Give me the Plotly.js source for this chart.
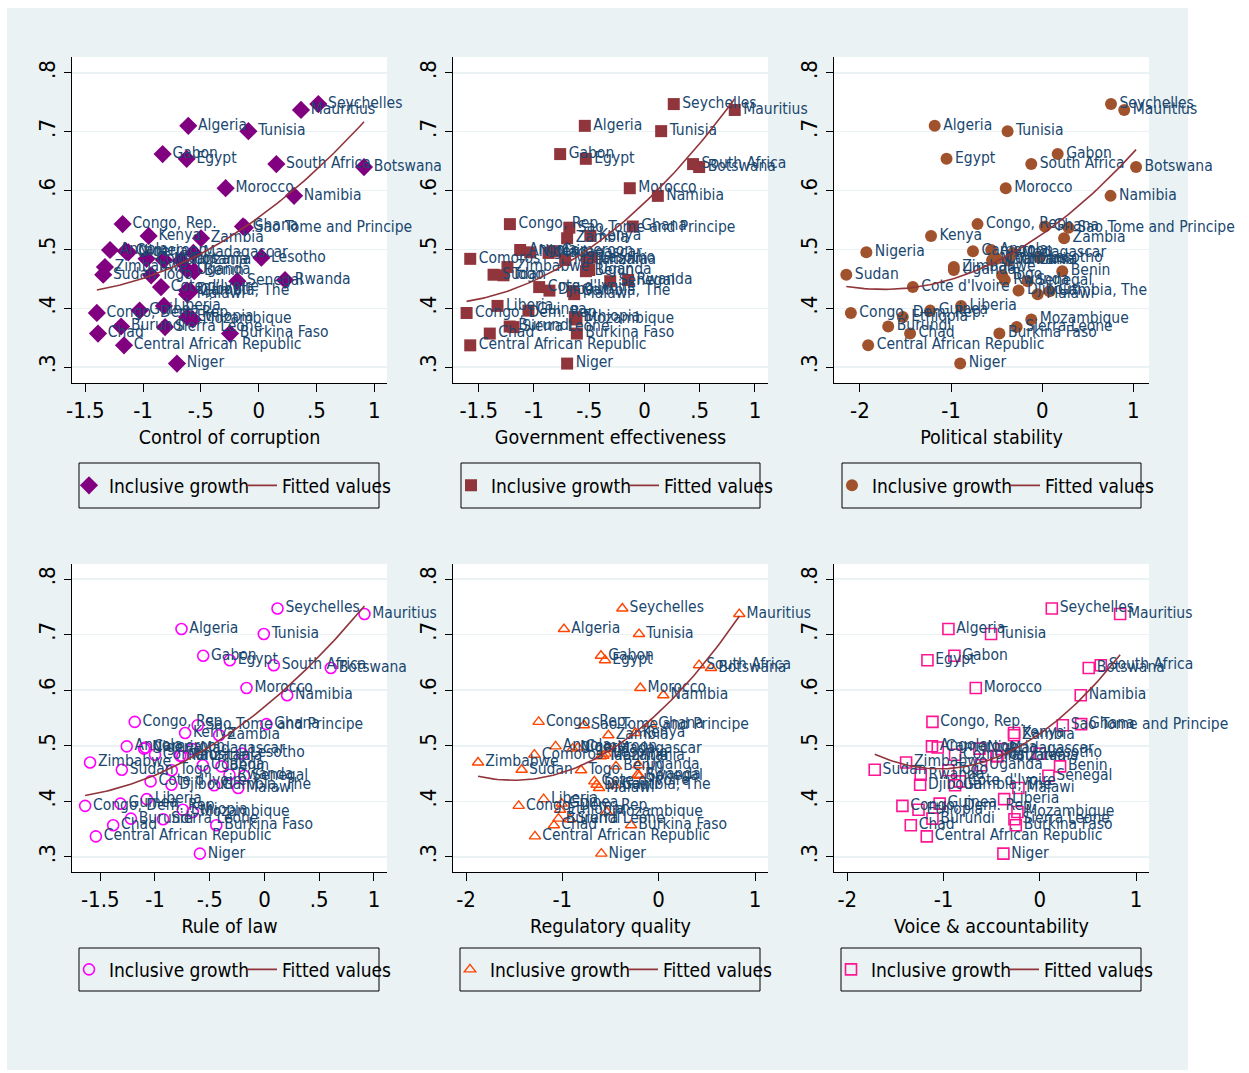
<!DOCTYPE html>
<html>
<head>
<meta charset="utf-8">
<script src="https://cdn.plot.ly/plotly-3.0.1.min.js"></script>
<style>html,body{margin:0;padding:0;background:#fff;}#chart{width:1249px;height:1073px;}</style>
</head>
<body>
<div id="chart"></div>
<script>
const countries = ["Seychelles","Mauritius","Algeria","Tunisia","Gabon","Egypt","South Africa","Botswana","Morocco","Namibia",
"Congo, Rep.","Ghana","Sao Tome and Principe","Kenya","Zambia","Angola","Cameroon","Nigeria","Madagascar","Lesotho",
"Comoros","Mauritania","Tanzania","Zimbabwe","Uganda","Benin","Sudan","Togo","Rwanda","Senegal",
"Cote d'Ivoire","Djibouti","Gambia, The","Malawi","Liberia","Guinea","Congo, Dem. Rep.","Ethiopia","Mozambique","Burundi",
"Sierra Leone","Chad","Burkina Faso","Central African Republic","Niger"];

const inclusiveGrowth = [0.747,0.737,0.710,0.701,0.662,0.654,0.645,0.640,0.604,0.591,
0.543,0.539,0.537,0.523,0.519,0.499,0.497,0.495,0.494,0.486,
0.484,0.482,0.481,0.470,0.465,0.463,0.457,0.456,0.448,0.446,
0.436,0.430,0.429,0.424,0.404,0.396,0.392,0.385,0.381,0.369,
0.368,0.357,0.357,0.337,0.306];

const controlCorruption = [0.516,0.366,-0.609,-0.089,-0.831,-0.623,0.153,0.911,-0.286,0.306,
-1.177,-0.136,-0.12,-0.952,-0.499,-1.286,-1.15,-1.128,-0.565,0.023,
-0.97,-0.82,-0.672,-1.33,-0.62,-0.557,-1.345,-0.93,0.228,-0.185,
-0.845,-0.62,-0.59,-0.62,-0.82,-1.03,-1.40,-0.62,-0.57,-1.19,
-0.81,-1.39,-0.248,-1.165,-0.707];

const govEffectiveness = [0.265,0.817,-0.54,0.151,-0.763,-0.531,0.44,0.495,-0.133,0.121,
-1.218,-0.106,-0.68,-0.49,-0.70,-1.125,-0.829,-1.034,-0.868,-0.476,
-1.577,-0.718,-0.52,-1.24,-0.50,-0.53,-1.366,-1.276,-0.148,-0.31,
-0.953,-0.86,-0.648,-0.636,-1.33,-1.05,-1.61,-0.63,-0.615,-1.22,
-1.185,-1.40,-0.612,-1.577,-0.70];

const politicalStability = [0.755,0.90,-1.18,-0.38,0.17,-1.05,-0.12,1.03,-0.40,0.75,
-0.71,0.03,0.29,-1.22,0.24,-0.56,-0.76,-1.93,-0.32,-0.03,
-0.50,-0.55,-0.37,-0.97,-0.97,0.22,-2.15,-0.44,-0.41,-0.16,
-1.42,-0.26,0.08,-0.05,-0.89,-1.23,-2.10,-1.53,-0.12,-1.69,
-0.28,-1.45,-0.47,-1.91,-0.90];

const ruleOfLaw = [0.119,0.913,-0.758,-0.006,-0.56,-0.317,0.085,0.606,-0.164,0.207,
-1.185,0.018,-0.61,-0.725,-0.414,-1.258,-1.087,-1.10,-0.658,-0.204,
-1.0,-0.77,-0.75,-1.593,-0.563,-0.393,-1.303,-0.847,-0.32,-0.186,
-1.04,-0.85,-0.46,-0.24,-1.075,-1.315,-1.638,-0.746,-0.655,-1.22,
-0.926,-1.382,-0.44,-1.54,-0.59];

const regulatoryQuality = [-0.377,0.837,-0.983,-0.204,-0.599,-0.557,0.419,0.543,-0.19,0.048,
-1.246,-0.08,-0.775,-0.242,-0.522,-1.07,-0.837,-0.893,-0.505,-0.55,
-1.29,-0.574,-0.60,-1.875,-0.21,-0.443,-1.422,-0.806,-0.218,-0.20,
-0.668,-0.644,-0.46,-0.619,-1.194,-1.007,-1.453,-1.024,-0.54,-1.04,
-0.92,-1.087,-0.287,-1.284,-0.595];

const voiceAccountability = [0.125,0.835,-0.949,-0.506,-0.887,-1.167,0.634,0.509,-0.665,0.426,
-1.115,0.43,0.239,-0.267,-0.267,-1.12,-1.06,-0.627,-0.40,-0.003,
-0.88,-0.45,-0.44,-1.389,-0.61,0.211,-1.715,-0.95,-1.237,0.09,
-0.83,-1.243,-0.88,-0.222,-0.37,-1.04,-1.427,-1.26,-0.232,-1.115,
-0.263,-1.34,-0.249,-1.174,-0.378];

const panelTitles = ["Control of corruption","Government effectiveness","Political stability","Rule of law","Regulatory quality","Voice & accountability"];
const yTickVals = [0.3,0.4,0.5,0.6,0.7,0.8];
const yTickText = [".3",".4",".5",".6",".7",".8"];
const xTickValsA = [-1.5,-1,-0.5,0,0.5,1];
const xTickTextA = ["-1.5","-1","-.5","0",".5","1"];
const xTickValsB = [-2,-1,0,1];
const xTickTextB = ["-2","-1","0","1"];
const seriesName = "Inclusive growth";
const fitName = "Fitted values";

// ---- styling / layout (not data) ----
const FONT = "DejaVu Sans Condensed, Liberation Sans, Arial, sans-serif";
const W = 1249, H = 1073;
const panelX = [[72,387],[453,768],[834,1149],[72,387],[453,768],[834,1149]];
const panelY = [[57,383],[57,383],[57,383],[564,872],[564,872],[564,872]];
const xRanges = [[-1.615,1.110],[-1.733,1.118],[-2.285,1.172],[-1.758,1.119],[-2.135,1.135],[-2.138,1.135]];
const yRange = [0.273,0.827];
const legendBox = [[79,379,463,508],[461,760,463,508],[842,1141,463,508],[79,379,948,991],[460,760,948,991],[841,1141,948,991]];
const markerStyles = [
  {symbol:"diamond", size:14, color:"#800080"},
  {symbol:"square", size:12, color:"#90353b"},
  {symbol:"circle", size:12, color:"#a0522d"},
  {symbol:"circle-open", size:11, color:"#ff00ff", line:{width:1.6,color:"#ff00ff"}},
  {symbol:"triangle-up-open", size:10, color:"#ff4500", line:{width:1.4,color:"#ff4500"}},
  {symbol:"square-open", size:11, color:"#ff1493", line:{width:1.6,color:"#ff1493"}}
];
const xData = [controlCorruption, govEffectiveness, politicalStability, ruleOfLaw, regulatoryQuality, voiceAccountability];

function qfit(xs, ys) {
  // least squares y = a + b x + c x^2 (as Stata qfit)
  let n=xs.length, s1=0,s2=0,s3=0,s4=0,t0=0,t1=0,t2=0;
  for (let i=0;i<n;i++){const x=xs[i],y=ys[i];s1+=x;s2+=x*x;s3+=x*x*x;s4+=x*x*x*x;t0+=y;t1+=x*y;t2+=x*x*y;}
  const M=[[n,s1,s2,t0],[s1,s2,s3,t1],[s2,s3,s4,t2]];
  for (let c=0;c<3;c++){
    let p=c; for(let r=c+1;r<3;r++) if(Math.abs(M[r][c])>Math.abs(M[p][c])) p=r;
    [M[c],M[p]]=[M[p],M[c]];
    for(let r=0;r<3;r++){ if(r===c) continue; const f=M[r][c]/M[c][c]; for(let k=c;k<4;k++) M[r][k]-=f*M[c][k]; }
  }
  const a=M[0][3]/M[0][0], b=M[1][3]/M[1][1], cc=M[2][3]/M[2][2];
  const mn=Math.min(...xs), mx=Math.max(...xs);
  const fx=[], fy=[];
  for(let i=0;i<=80;i++){const x=mn+(mx-mn)*i/80; fx.push(x); fy.push(a+b*x+cc*x*x);}
  return {fx, fy};
}

const traces = [];
const shapes = [
  {type:"rect", xref:"paper", yref:"paper", x0:0, x1:1, y0:1-8/H, y1:1, fillcolor:"#fff", line:{width:0}, layer:"below"},
  {type:"rect", xref:"paper", yref:"paper", x0:0, x1:7/W, y0:0, y1:1, fillcolor:"#fff", line:{width:0}, layer:"below"},
  {type:"rect", xref:"paper", yref:"paper", x0:1188/W, x1:1, y0:0, y1:1, fillcolor:"#fff", line:{width:0}, layer:"below"},
  {type:"rect", xref:"paper", yref:"paper", x0:0, x1:1, y0:0, y1:3/H, fillcolor:"#fff", line:{width:0}, layer:"below"}
];
const layout = {
  width: W, height: H,
  margin: {l:0,r:0,t:0,b:0},
  paper_bgcolor: "#eaf2f3",
  plot_bgcolor: "#ffffff",
  font: {family: FONT, color: "#000"},
  showlegend: true,
  shapes: shapes
};

for (let i=0;i<6;i++){
  const k = i+1;
  const xa = k===1 ? "x" : "x"+k;
  const ya = k===1 ? "y" : "y"+k;
  const lg = k===1 ? "legend" : "legend"+k;
  const xs = xData[i];
  traces.push({
    type:"scatter", mode:"markers+text", x: xs, y: inclusiveGrowth, text: countries,
    textposition:"middle right", cliponaxis:false,
    textfont:{family:FONT, size:15.5, color:"#1a476f"},
    marker: markerStyles[i], name: seriesName, xaxis: xa, yaxis: ya, legend: lg, hoverinfo:"text"
  });
  const f = qfit(xs, inclusiveGrowth);
  traces.push({
    type:"scatter", mode:"lines", x: f.fx, y: f.fy, line:{color:"#90353b", width:1.6},
    name: fitName, xaxis: xa, yaxis: ya, legend: lg, hoverinfo:"skip"
  });
  const useA = (i===0||i===1||i===3);
  layout[k===1?"xaxis":"xaxis"+k] = {
    domain:[panelX[i][0]/W, panelX[i][1]/W], range: xRanges[i], anchor: ya,
    showgrid:false, zeroline:false, showline:true, linecolor:"#000", linewidth:1,
    ticks:"outside", ticklen:8, tickcolor:"#000",
    tickvals: useA ? xTickValsA : xTickValsB, ticktext: useA ? xTickTextA : xTickTextB,
    tickfont:{family:FONT, size:22, color:"#000"},
    title:{text: panelTitles[i], font:{family:FONT, size:19.5, color:"#000"}, standoff:7},
    automargin:false
  };
  layout[k===1?"yaxis":"yaxis"+k] = {
    domain:[1-panelY[i][1]/H, 1-panelY[i][0]/H], range: yRange, anchor: xa,
    showgrid:true, gridcolor:"#eaf2f3", gridwidth:1.5, zeroline:false,
    showline:true, linecolor:"#000", linewidth:1,
    ticks:"outside", ticklen:7, tickcolor:"#000",
    tickvals: yTickVals, ticktext: yTickText, tickangle:-90,
    tickfont:{family:FONT, size:22, color:"#000"}, ticklabelstandoff:0,
    automargin:false
  };
  const b = legendBox[i];
  shapes.push({type:"rect", xref:"paper", yref:"paper", x0:b[0]/W, x1:b[1]/W, y0:1-b[3]/H, y1:1-b[2]/H,
    line:{color:"#000", width:1}, fillcolor:"rgba(0,0,0,0)", layer:"above"});
  layout[lg] = {
    x: (b[0]-10)/W, y: 1-((b[2]+b[3])/2)/H, xanchor:"left", yanchor:"middle",
    orientation:"h", bgcolor:"rgba(0,0,0,0)", borderwidth:0,
    font:{family:FONT, size:19, color:"#000"}, entrywidth:128, entrywidthmode:"pixels",
    itemwidth:30, traceorder:"normal"
  };
}

Plotly.newPlot("chart", traces, layout, {displayModeBar:false, staticPlot:true});
</script>
</body>
</html>
